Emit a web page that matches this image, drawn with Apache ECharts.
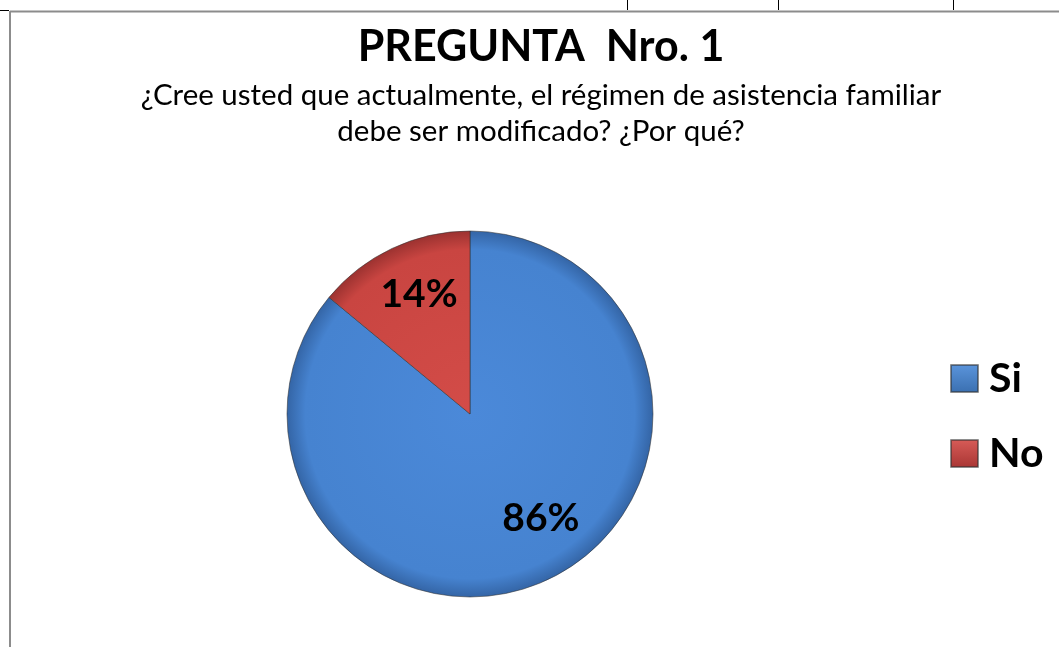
<!DOCTYPE html>
<html>
<head>
<meta charset="utf-8">
<script src="https://cdn.jsdelivr.net/npm/echarts@6/dist/echarts.min.js"></script>
<style>
html,body{margin:0;padding:0;background:#fff;}
#chart{width:1059px;height:647px;}
</style>
</head>
<body>
<div id="chart"></div>
<script>
const categories = ['Si', 'No'];
const values = [86, 14];
const titleText = 'PREGUNTA  Nro. 1';
const subtitleText = '¿Cree usted que actualmente, el régimen de asistencia familiar\ndebe ser modificado? ¿Por qué?';

const FONT = 'Lato, "Open Sans", sans-serif';
const cx = 470, cy = 414, R = 183;

function radial(c0, c1, c2) {
  return {
    type: 'radial', x: cx, y: cy, r: R, global: true,
    colorStops: [
      {offset: 0, color: c0},
      {offset: 0.9, color: c1},
      {offset: 1, color: c2}
    ]
  };
}
function legendGrad(c0, c1) {
  return {
    type: 'linear', x: 0, y: 0, x2: 0, y2: 1,
    colorStops: [{offset: 0, color: c0}, {offset: 1, color: c1}]
  };
}
const sliceColors = [
  radial('#4b89d9', '#4683d0', '#3465a6'),
  radial('#d34c48', '#c94541', '#9c3230')
];
const legendColors = [
  legendGrad('#5b95dc', '#3a6fb0'),
  legendGrad('#d85c58', '#a83533')
];
const labelOffsets = [[16, -12], [4, -3]];

const chart = echarts.init(document.getElementById('chart'), null, {renderer: 'canvas'});
chart.setOption({
  backgroundColor: '#ffffff',
  animation: false,
  title: {
    text: titleText,
    subtext: subtitleText,
    left: 536,
    top: 21,
    padding: 5,
    textAlign: 'center',
    itemGap: 8,
    textStyle: {fontFamily: FONT, fontSize: 43, fontWeight: 'bold', color: '#000'},
    subtextStyle: {fontFamily: FONT, fontSize: 29.5, color: '#000', lineHeight: 36}
  },
  legend: {
    orient: 'vertical',
    left: 945,
    top: 353,
    itemWidth: 27,
    itemHeight: 27,
    itemGap: 34,
    icon: 'rect',
    textStyle: {fontFamily: FONT, fontSize: 41, fontWeight: 'bold', color: '#000', padding: [0, 0, 0, 6]},
    data: categories.map((c, i) => ({name: c, itemStyle: {color: legendColors[i]}}))
  },
  graphic: [
    {type: 'line', shape: {x1: 10, y1: 11.5, x2: 1059, y2: 11.5}, style: {stroke: '#8c8c8c', lineWidth: 2}, silent: true},
    {type: 'line', shape: {x1: 10, y1: 11, x2: 10, y2: 647}, style: {stroke: '#8c8c8c', lineWidth: 2}, silent: true},
    {type: 'line', shape: {x1: 0, y1: 10.5, x2: 9, y2: 10.5}, style: {stroke: '#000', lineWidth: 1}, silent: true},
    {type: 'line', shape: {x1: 627.5, y1: 0, x2: 627.5, y2: 10}, style: {stroke: '#000', lineWidth: 1}, silent: true},
    {type: 'line', shape: {x1: 778.5, y1: 0, x2: 778.5, y2: 10}, style: {stroke: '#000', lineWidth: 1}, silent: true},
    {type: 'line', shape: {x1: 953.5, y1: 0, x2: 953.5, y2: 10}, style: {stroke: '#000', lineWidth: 1}, silent: true}
  ],
  series: [
    {
      type: 'pie',
      center: [cx, cy],
      radius: [0, R],
      startAngle: 90,
      clockwise: true,
      silent: true,
      label: {show: false},
      labelLine: {show: false},
      itemStyle: {borderColor: 'rgba(50,50,50,0.55)', borderWidth: 1},
      data: categories.map((c, i) => ({name: c, value: values[i], itemStyle: {color: sliceColors[i]}}))
    },
    {
      type: 'pie',
      center: [cx, cy],
      radius: [0, 252],
      startAngle: 90,
      clockwise: true,
      silent: true,
      legendHoverLink: false,
      itemStyle: {color: 'rgba(0,0,0,0)', borderWidth: 0},
      label: {
        show: true,
        position: 'inside',
        formatter: '{d}%',
        fontFamily: FONT,
        fontSize: 39,
        fontWeight: 'bold',
        color: '#000'
      },
      labelLine: {show: false},
      data: categories.map((c, i) => ({name: c + ' ', value: values[i], label: {offset: labelOffsets[i]}}))
    }
  ]
});
</script>
</body>
</html>
